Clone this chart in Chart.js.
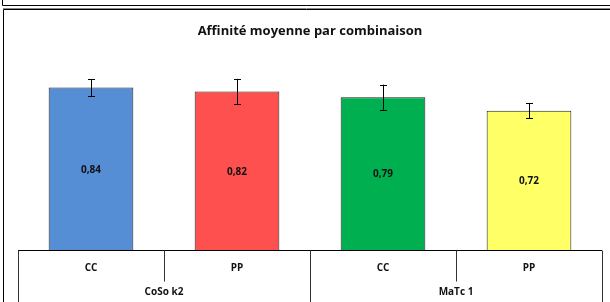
<!DOCTYPE html>
<html>
<head>
<meta charset="utf-8">
<script src="https://cdn.jsdelivr.net/npm/chart.js@4"></script>
<style>
  html, body { margin: 0; padding: 0; background: #fff; }
  #wrap { position: relative; width: 610px; height: 302px; }
</style>
</head>
<body>
<div id="wrap"><canvas id="affinite"></canvas></div>
<script>
const combinaisons = ["CC", "PP", "CC", "PP"];
const groupes = ["CoSo k2", "MaTc 1"];
const moyennes = [0.84, 0.82, 0.79, 0.72];
const ecarts = [0.044, 0.065, 0.065, 0.039];
const etiquettes = ["0,84", "0,82", "0,79", "0,72"];
const couleurs = ["#558ED5", "#FF5050", "#00B050", "#FFFF66"];

const fontFamily = "'Open Sans', sans-serif";

// cadre, barres d'erreur, étiquettes et axe à deux niveaux
const decor = {
    id: "decor",
    beforeDraw(chart) {
        const ctx = chart.ctx;
        ctx.save();
        ctx.lineWidth = 1;
        ctx.strokeStyle = "#000";
        ctx.beginPath();
        ctx.moveTo(2.5, 0);
        ctx.lineTo(2.5, 5.5);
        ctx.lineTo(610, 5.5);
        ctx.stroke();
        ctx.strokeStyle = "#888";
        ctx.beginPath();
        ctx.moveTo(3, 8.5);
        ctx.lineTo(610, 8.5);
        ctx.stroke();
        ctx.strokeStyle = "#000";
        ctx.beginPath();
        ctx.moveTo(3.5, 302);
        ctx.lineTo(3.5, 9.5);
        ctx.lineTo(610, 9.5);
        ctx.stroke();
        ctx.restore();
    },
    afterDatasetsDraw(chart) {
        const ctx = chart.ctx;
        const x = chart.scales.x;
        const y = chart.scales.y;
        const meta = chart.getDatasetMeta(0);
        ctx.save();

        // barres d'erreur
        ctx.strokeStyle = "#000";
        ctx.lineWidth = 1;
        meta.data.forEach((bar, i) => {
            const cx = Math.round(bar.x) + 0.5;
            const top = y.getPixelForValue(moyennes[i] + ecarts[i]);
            const bot = y.getPixelForValue(moyennes[i] - ecarts[i]);
            ctx.beginPath();
            ctx.moveTo(cx, top);
            ctx.lineTo(cx, bot);
            ctx.moveTo(cx - 3.5, Math.round(top) + 0.5);
            ctx.lineTo(cx + 3.5, Math.round(top) + 0.5);
            ctx.moveTo(cx - 3.5, Math.round(bot) + 0.5);
            ctx.lineTo(cx + 3.5, Math.round(bot) + 0.5);
            ctx.stroke();
        });

        // étiquettes de valeurs
        ctx.fillStyle = "#111";
        ctx.font = "bold 10px " + fontFamily;
        ctx.textAlign = "center";
        ctx.textBaseline = "middle";
        meta.data.forEach((bar, i) => {
            ctx.fillText(etiquettes[i], bar.x, (bar.y + bar.base) / 2 + 1);
        });

        // axe horizontal à deux niveaux
        const base = Math.round(y.getPixelForValue(0)) + 0.5;
        const row1 = base + 31;
        const bottom = chart.height;
        const step = (x.right - x.left) / combinaisons.length;
        ctx.strokeStyle = "#000";
        ctx.beginPath();
        ctx.moveTo(x.left, base);
        ctx.lineTo(x.right, base);
        ctx.stroke();
        ctx.strokeStyle = "#333";
        ctx.beginPath();
        for (let i = 0; i <= combinaisons.length; i++) {
            const px = Math.round(x.left + i * step) + 0.5;
            ctx.moveTo(px, base);
            ctx.lineTo(px, i % 2 === 0 ? bottom : row1);
        }
        ctx.stroke();

        ctx.fillStyle = "#111";
        ctx.font = "bold 10px " + fontFamily;
        combinaisons.forEach((c, i) => {
            ctx.fillText(c, x.getPixelForValue(i), base + 18);
        });
        groupes.forEach((g, i) => {
            const cx = (x.getPixelForValue(2 * i) + x.getPixelForValue(2 * i + 1)) / 2;
            ctx.fillText(g, cx, base + 42);
        });
        ctx.restore();
    },
};

new Chart(document.getElementById("affinite"), {
    type: "bar",
    data: {
        labels: combinaisons,
        datasets: [
            {
                data: moyennes,
                backgroundColor: couleurs,
                borderColor: "#222",
                borderWidth: 1,
                categoryPercentage: 1,
                barPercentage: 0.58,
            },
        ],
    },
    options: {
        responsive: true,
        maintainAspectRatio: false,
        animation: false,
        layout: {
            padding: { left: 18, right: 8, bottom: 52, top: 0 },
        },
        scales: {
            x: { display: false },
            y: { display: false, min: 0, max: 1 },
        },
        plugins: {
            legend: { display: false },
            tooltip: { enabled: false },
            title: {
                display: true,
                text: "Affinité moyenne par combinaison",
                color: "#111",
                font: { family: fontFamily, size: 13, weight: "bold" },
                padding: { top: 23, bottom: 18 },
            },
        },
    },
    plugins: [decor],
});
</script>
</body>
</html>
